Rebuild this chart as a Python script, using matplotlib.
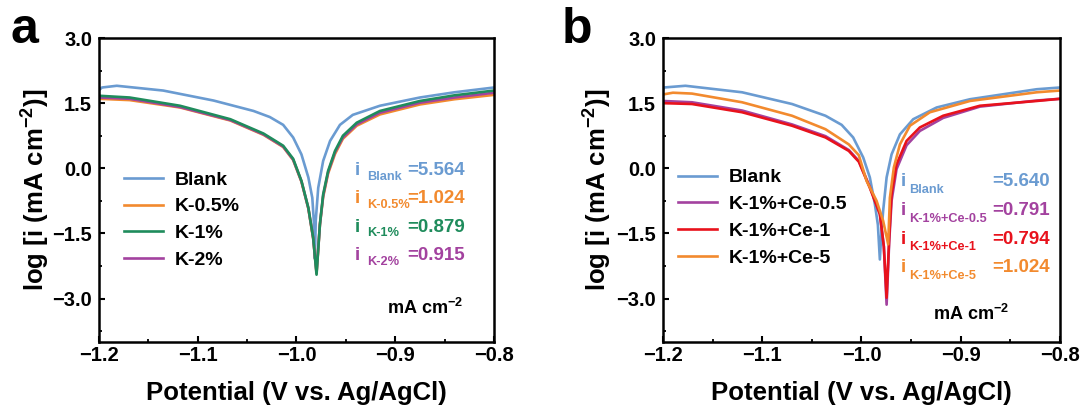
import numpy as np
import matplotlib
matplotlib.use("Agg")
import matplotlib.pyplot as plt
from matplotlib.ticker import FuncFormatter

plt.rcParams['font.family'] = ['Liberation Sans', 'DejaVu Sans']
plt.rcParams['font.weight'] = 'bold'
plt.rcParams['mathtext.fontset'] = 'custom'
plt.rcParams['mathtext.bf'] = 'Liberation Sans:bold'
plt.rcParams['mathtext.rm'] = 'Liberation Sans:bold'
plt.rcParams['mathtext.default'] = 'bf'

# ----------------------------
# Data
# ----------------------------
# panel a
blank_a_x = [-1.2, -1.197, -1.182, -1.135, -1.084, -1.0435, -1.027, -1.0135, -1.0034,
             -0.995, -0.988, -0.984, -0.9825, -0.9814, -0.9805, -0.978, -0.973, -0.966,
             -0.956, -0.943, -0.9155, -0.875, -0.84, -0.8]
blank_a_y = [1.80, 1.86, 1.90, 1.79, 1.56, 1.32, 1.18, 1.00, 0.71,
             0.32, -0.21, -0.68, -1.20, -2.08, -1.20, -0.45, 0.17, 0.63,
             1.00, 1.23, 1.44, 1.63, 1.75, 1.86]

k_x = [-1.2, -1.169, -1.118, -1.067, -1.0334, -1.0135, -1.0034, -0.995, -0.988,
       -0.9831, -0.9797, -0.9763, -0.973, -0.968, -0.961, -0.953, -0.939, -0.9155,
       -0.875, -0.84, -0.8]
k05_y = [1.60, 1.57, 1.40, 1.10, 0.77, 0.49, 0.19, -0.31, -0.93,
         -1.62, -2.42, -1.30, -0.66, -0.12, 0.33, 0.68, 0.98, 1.24,
         1.47, 1.59, 1.69]
k1_y = [1.67, 1.63, 1.44, 1.13, 0.80, 0.52, 0.22, -0.29, -0.91,
        -1.60, -2.45, -1.29, -0.60, -0.06, 0.40, 0.75, 1.05, 1.32,
        1.55, 1.68, 1.79]
k2_y = [1.63, 1.60, 1.41, 1.11, 0.78, 0.50, 0.20, -0.30, -0.92,
        -1.61, -2.40, -1.30, -0.63, -0.09, 0.37, 0.71, 1.01, 1.28,
        1.51, 1.63, 1.74]

# panel b
blank_b_x = [-1.2, -1.1993, -1.1774, -1.1203, -1.07, -1.0363, -1.02, -1.0084, -0.9983,
             -0.9916, -0.9865, -0.9835, -0.9815, -0.9800, -0.9782, -0.9747, -0.9697,
             -0.9613, -0.9479, -0.9243, -0.8907, -0.8235, -0.8]
blank_b_y = [1.80, 1.86, 1.90, 1.75, 1.48, 1.21, 1.00, 0.71, 0.25,
             -0.21, -0.83, -1.30, -2.10, -1.50, -0.98, -0.21, 0.32,
             0.78, 1.13, 1.40, 1.59, 1.82, 1.86]

ce5_x = [-1.2, -1.19, -1.1708, -1.1203, -1.07, -1.0363, -1.0128, -1.0027, -0.9949,
         -0.9848, -0.9782, -0.9731, -0.9714, -0.9674, -0.9613, -0.9512, -0.9311,
         -0.8907, -0.8235, -0.8]
ce5_y = [1.70, 1.74, 1.72, 1.52, 1.21, 0.90, 0.55, 0.30, -0.29,
         -0.75, -1.21, -1.75, -0.68, 0.02, 0.55, 0.98, 1.29,
         1.55, 1.75, 1.79]

ce_x = [-1.2, -1.1708, -1.1203, -1.07, -1.0363, -1.0128, -1.0027, -0.9916, -0.9815,
        -0.9775, -0.9747, -0.9721, -0.9697, -0.9647, -0.9546, -0.9412, -0.9177,
        -0.8807, -0.8235, -0.8]
ce1_y = [1.50, 1.48, 1.29, 0.98, 0.71, 0.40, 0.15, -0.45, -1.06,
         -1.80, -2.98, -1.60, -0.60, 0.09, 0.63, 0.94, 1.21,
         1.44, 1.55, 1.60]
ce05_y = [1.55, 1.52, 1.33, 1.01, 0.74, 0.42, 0.17, -0.43, -1.04,
          -1.80, -3.14, -1.70, -0.75, -0.02, 0.53, 0.86, 1.16,
          1.42, 1.56, 1.60]

labels_a = ["Blank", "K-0.5%", "K-1%", "K-2%"]
labels_b = ["Blank", "K-1%+Ce-0.5", "K-1%+Ce-1", "K-1%+Ce-5"]
sub_a = ["Blank", "K-0.5%", "K-1%", "K-2%"]
val_a = ["=5.564", "=1.024", "=0.879", "=0.915"]
sub_b = ["Blank", "K-1%+Ce-0.5", "K-1%+Ce-1", "K-1%+Ce-5"]
val_b = ["=5.640", "=0.791", "=0.794", "=1.024"]

BLUE = "#6a9bd1"
ORANGE = "#f28a2e"
GREEN = "#1f8c5c"
PURPLE = "#a3429f"
RED = "#e8121c"
LW = 1.9

W, H = 1085, 408
fig = plt.figure(figsize=(W / 100, H / 100), dpi=100)


def px_axes(l, t, r, b):
    return fig.add_axes([l / W, 1 - b / H, (r - l) / W, (b - t) / H])


def ftext(x, y, s, **kw):
    fig.text(x / W, 1 - y / H, s, **kw)


minus_fmt = FuncFormatter(lambda v, p: f"{v:.1f}".replace('-', '\u2212'))


def style(ax):
    ax.set_xlim(-1.2, -0.8)
    ax.set_ylim(-4.0, 3.0)
    ax.set_xticks([-1.2, -1.1, -1.0, -0.9, -0.8])
    ax.set_xticks(np.arange(-1.2, -0.79, 0.05), minor=True)
    ax.set_yticks([-3.0, -1.5, 0.0, 1.5, 3.0])
    ax.set_yticks(np.arange(-3.75, 3.0, 0.75), minor=True)
    ax.xaxis.set_major_formatter(minus_fmt)
    ax.yaxis.set_major_formatter(minus_fmt)
    ax.tick_params(which='major', direction='in', length=4, width=1.5, labelsize=14.5)
    ax.tick_params(axis='x', which='major', pad=3)
    ax.tick_params(axis='y', which='major', pad=5)
    ax.tick_params(which='minor', direction='in', length=2.5, width=1.3)
    for s in ax.spines.values():
        s.set_linewidth(1.8)


# ----------------------------
# Panel a
# ----------------------------
ax1 = px_axes(99, 38, 494, 342)
h_blank, = ax1.plot(blank_a_x, blank_a_y, color=BLUE, lw=LW)
h_k05, = ax1.plot(k_x, k05_y, color=ORANGE, lw=LW)
h_k2, = ax1.plot(k_x, k2_y, color=PURPLE, lw=LW)
h_k1, = ax1.plot(k_x, k1_y, color=GREEN, lw=LW)
style(ax1)
ax1.legend([h_blank, h_k05, h_k1, h_k2], labels_a, loc='upper left',
           bbox_to_anchor=(0.063, 0.5625), frameon=False, fontsize=14,
           handlelength=2.0, handletextpad=0.6, labelspacing=0.47,
           borderpad=0, borderaxespad=0)

colors_a = [BLUE, ORANGE, GREEN, PURPLE]
rows_a = [170, 198.7, 227, 255.3]
for s, v, c, y in zip(sub_a, val_a, colors_a, rows_a):
    ftext(355, y, "i", color=c, fontsize=13.5, va='center')
    ftext(367, y + 6.5, s, color=c, fontsize=9.2, va='center')
    ftext(465, y, v, color=c, fontsize=13.5, va='center', ha='right')
ftext(387, 308, "mA cm$^{-2}$", fontsize=13, va='center')
ftext(10, 30, "a", fontsize=36, va='center')
ftext(296.5, 400, "Potential (V vs. Ag/AgCl)", fontsize=18.5, ha='center', va='baseline')
ftext(36, 190, "log [i (mA cm$^{-2}$)]", fontsize=18.5, rotation=90, ha='center', va='center')

# ----------------------------
# Panel b
# ----------------------------
ax2 = px_axes(663, 38, 1060, 342)
h_bb, = ax2.plot(blank_b_x, blank_b_y, color=BLUE, lw=LW)
h_c05, = ax2.plot(ce_x, ce05_y, color=PURPLE, lw=LW)
h_c1, = ax2.plot(ce_x, ce1_y, color=RED, lw=LW)
h_c5, = ax2.plot(ce5_x, ce5_y, color=ORANGE, lw=LW)
style(ax2)
ax2.legend([h_bb, h_c05, h_c1, h_c5], labels_b, loc='upper left',
           bbox_to_anchor=(0.0386, 0.570), frameon=False, fontsize=14,
           handlelength=2.0, handletextpad=0.6, labelspacing=0.47,
           borderpad=0, borderaxespad=0)

colors_b = [BLUE, PURPLE, RED, ORANGE]
rows_b = [181.7, 210.7, 239.3, 267.7]
for s, v, c, y in zip(sub_b, val_b, colors_b, rows_b):
    ftext(900.5, y, "i", color=c, fontsize=13.5, va='center')
    ftext(909, y + 8, s, color=c, fontsize=9.2, va='center')
    ftext(1050, y, v, color=c, fontsize=13.5, va='center', ha='right')
ftext(933, 314, "mA cm$^{-2}$", fontsize=13, va='center')
ftext(562, 30, "b", fontsize=36, va='center')
ftext(861.5, 400, "Potential (V vs. Ag/AgCl)", fontsize=18.5, ha='center', va='baseline')
ftext(598, 190, "log [i (mA cm$^{-2}$)]", fontsize=18.5, rotation=90, ha='center', va='center')

fig.savefig("out.png", dpi=100)
